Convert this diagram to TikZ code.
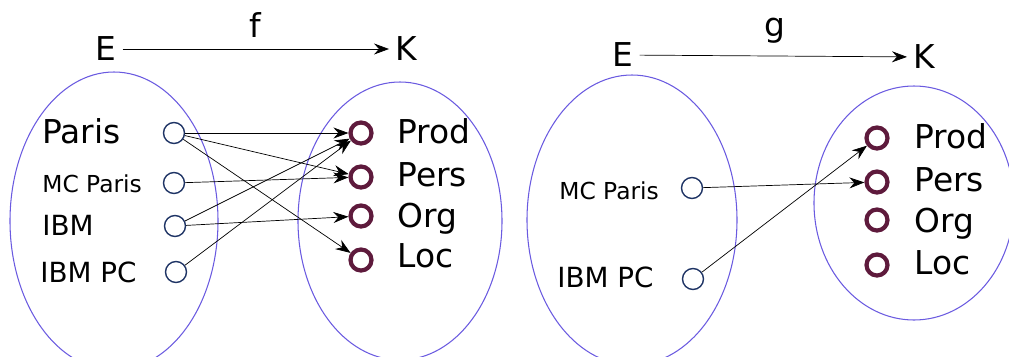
\documentclass[tikz,border=0pt]{standalone}
\usepackage{fontspec}
\setmainfont{DejaVu Sans}
\usetikzlibrary{arrows.meta}
\definecolor{setblue}{HTML}{6A5AE0}
\definecolor{srcblue}{HTML}{1F3465}
\definecolor{tagred}{HTML}{5E1A3C}
\tikzstyle{src}=[circle, draw=srcblue, thick, minimum size=0.42cm, inner sep=0pt]
\tikzstyle{tag}=[circle, draw=tagred, line width=2.4pt, minimum size=0.42cm, inner sep=0pt]
\tikzstyle{set}=[draw=setblue, line width=0.6pt]
\tikzstyle{word}=[anchor=base west, inner sep=0pt]
\tikzstyle{arrow}=[draw=black, >={Stealth[length=3mm, width=2.2mm, inset=1mm]}]
\newcommand{\fsbig}{\fontsize{18.7}{22}\selectfont}
\newcommand{\fsmid}{\fontsize{15.8}{18}\selectfont}
\newcommand{\fssmall}{\fontsize{13.3}{15}\selectfont}
\begin{document}
\begin{tikzpicture}[x=0.02cm, y=-0.02cm]
		   \useasboundingbox (0,0) rectangle (1009,356);
		   % f : E -> K
		   \begin{scope}
			   \draw[set] (114,221) ellipse [x radius=104, y radius=149];
			   \draw[set] (400,221) ellipse [x radius=102, y radius=139];
			   \node (E1) at (106,49) {\fsbig E};
			   \node (K1) at (406,49) {\fsbig K};
			   \node (f) at (255,25) {\fsbig f};
			   \node (paris) at (174,133)[src] {};
			   \node (mcparis) at (174,183)[src] {};
			   \node (ibm) at (175,226)[src] {};
			   \node (ibmpc) at (176,272)[src] {};
			   \node (prod1) at (361,133)[tag] {};
			   \node (pers1) at (361,177)[tag] {};
			   \node (org1) at (361,216)[tag] {};
			   \node (loc1) at (361,260)[tag] {};
			   \node (lparis) at (42,143)[word] {\fsbig Paris};
			   \node (lmcparis) at (42,192)[word] {\fssmall MC Paris};
			   \node (libm) at (42,235)[word] {\fsmid IBM};
			   \node (libmpc) at (40,282)[word] {\fsmid IBM PC};
			   \node (lprod1) at (397,143)[word] {\fsbig Prod};
			   \node (lpers1) at (397,186)[word] {\fsbig Pers};
			   \node (lorg1) at (397,227)[word] {\fsbig Org};
			   \node (lloc1) at (397,267)[word] {\fsbig Loc};
		   \end{scope}
		   \begin{scope}
			   \path [arrow, ->] (E1) edge (K1);
			   \path [arrow, ->] (paris) edge (prod1);
			   \path [arrow, ->] (paris) edge (pers1);
			   \path [arrow, ->] (paris) edge (loc1);
			   \path [arrow, ->] (mcparis) edge (pers1);
			   \path [arrow, ->] (ibm) edge (prod1);
			   \path [arrow, ->] (ibm) edge (org1);
			   \path [arrow, ->] (ibmpc) edge (prod1);
		   \end{scope}
		   % g : E -> K
		   \begin{scope}
			   \draw[set] (632,220) ellipse [x radius=105, y radius=145];
			   \draw[set] (914,203) ellipse [x radius=100, y radius=117];
			   \node (E2) at (623,55) {\fsbig E};
			   \node (K2) at (924,57) {\fsbig K};
			   \node (g) at (775,31) {\fsbig g};
			   \node (mcparis2) at (692,188)[src] {};
			   \node (ibmpc2) at (693,279)[src] {};
			   \node (prod2) at (877,138)[tag] {};
			   \node (pers2) at (877,182)[tag] {};
			   \node (org2) at (877,220)[tag] {};
			   \node (loc2) at (877,265)[tag] {};
			   \node (lmcparis2) at (559,199)[word] {\fssmall MC Paris};
			   \node (libmpc2) at (557,287)[word] {\fsmid IBM PC};
			   \node (lprod2) at (914,148)[word] {\fsbig Prod};
			   \node (lpers2) at (914,191)[word] {\fsbig Pers};
			   \node (lorg2) at (914,232)[word] {\fsbig Org};
			   \node (lloc2) at (914,274)[word] {\fsbig Loc};
		   \end{scope}
		   \begin{scope}
			   \path [arrow, ->] (E2) edge (K2);
			   \path [arrow, ->] (mcparis2) edge (pers2);
			   \path [arrow, ->] (ibmpc2) edge (prod2);
		   \end{scope}
	   \end{tikzpicture}
\end{document}
